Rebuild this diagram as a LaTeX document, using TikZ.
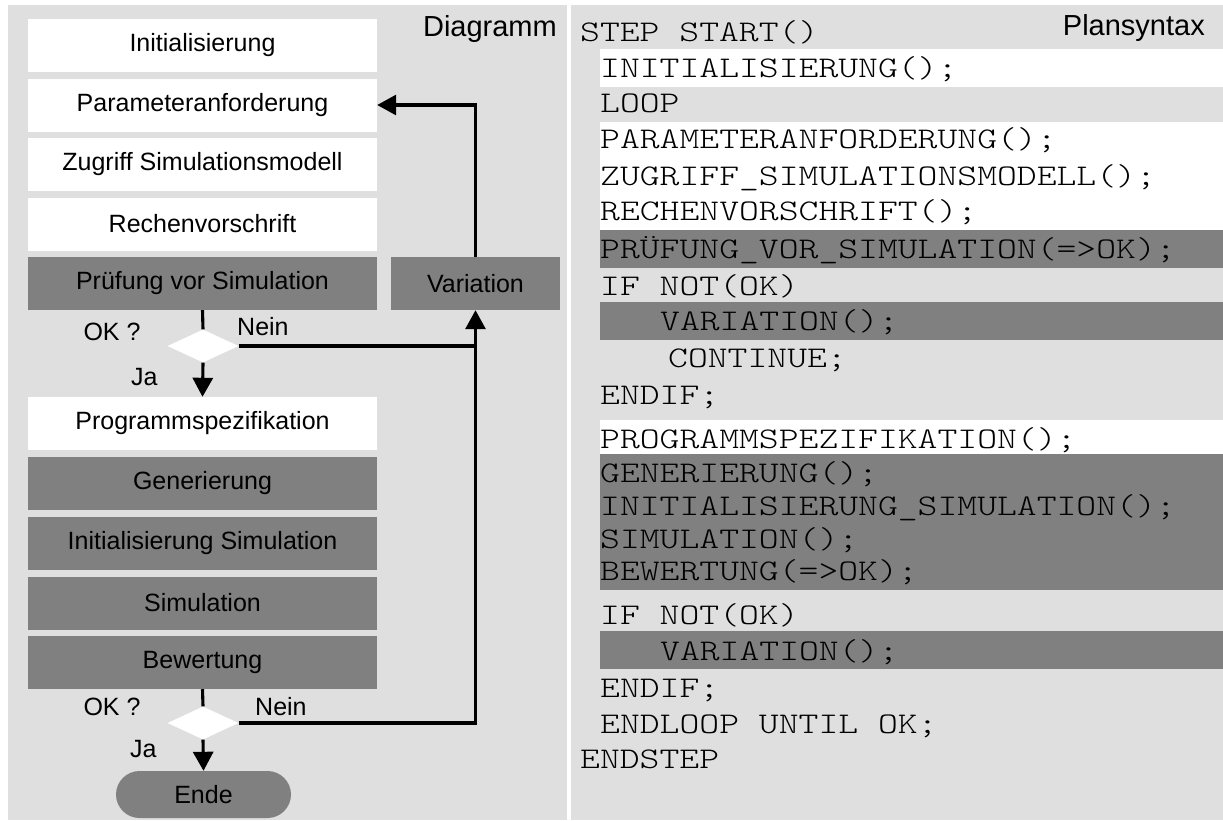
\documentclass[tikz,border=0pt]{standalone}
\usepackage{fontspec}
\setmainfont{Liberation Sans}
\newfontfamily\codefont{lmmonolt10-regular}[Extension=.otf,FakeStretch=1.26]
\usetikzlibrary{shapes.geometric,arrows.meta}
\definecolor{panel}{HTML}{DFDFDF}
\definecolor{dark}{HTML}{808080}
\begin{document}
\begin{tikzpicture}[x=1pt,y=-1pt,
  boxfont/.style={font=\fontsize{25}{30}\selectfont},
  lightbox/.style={boxfont, fill=white, minimum width=349pt, minimum height=53pt, inner sep=0pt},
  darkbox/.style={lightbox, fill=dark, text=black},
  decision/.style={diamond, fill=white, minimum width=71pt, minimum height=33pt, inner sep=0pt},
  flow/.style={line width=3.1pt, draw=black},
  flowarrow/.style={flow, -{Triangle[length=19pt,width=20pt]}},
  lbl/.style={boxfont, inner sep=0pt},
  heading/.style={font=\fontsize{29}{34}\selectfont, inner sep=0pt},
  code/.style={font=\codefont\fontsize{30}{34}\selectfont, inner sep=0pt, anchor=base west, text=black},
  whiteband/.style={fill=white},
  darkband/.style={fill=dark}]

\useasboundingbox (0,0) rectangle (1223,820);
\fill[white] (0,0) rectangle (1223,820);
\fill[panel] (8,5) rectangle (567,820);
\fill[panel] (571,5) rectangle (1223,820);

% ---- flow chart ----
\node[heading, anchor=base east] (dtitle) at (557,36) {Diagramm};

\node[lightbox] (init)   at (202.5,45.5)  {Initialisierung};
\node[lightbox] (param)  at (202.5,105)   {Parameteranforderung};
\node[lightbox] (zugr)   at (202.5,164.5) {Zugriff Simulationsmodell};
\node[lightbox] (rech)   at (202.5,224)   {Rechenvorschrift};
\node[darkbox]  (pruef)  at (202.5,283.5) {Prüfung vor Simulation};
\node[darkbox, minimum width=169pt] (var) at (475.5,283.5) {Variation};

\node[decision] (d1) at (203,346) {};
\node[lbl, anchor=base] (ok1) at (112,340) {OK ?};
\node[lbl, anchor=base west] (nein1) at (237,335) {Nein};
\node[lbl, anchor=base west] (ja1) at (131,385) {Ja};

\node[lightbox] (spez)   at (202.5,423.5) {Programmspezifikation};
\node[darkbox]  (gen)    at (202.5,483.5) {Generierung};
\node[darkbox]  (isim)   at (202.5,543.5) {Initialisierung Simulation};
\node[darkbox]  (sim)    at (202.5,603)   {Simulation};
\node[darkbox]  (bew)    at (202.5,662.5) {Bewertung};

\node[decision] (d2) at (203,723) {};
\node[lbl, anchor=base] (ok2) at (112,715) {OK ?};
\node[lbl, anchor=base west] (nein2) at (255,715) {Nein};
\node[lbl, anchor=base west] (ja2) at (130,757) {Ja};

\node[boxfont, fill=dark, text=black, rounded corners=23.5pt, minimum width=175pt, minimum height=47pt, inner sep=0pt] (ende) at (203.5,794.5) {Ende};

\coordinate (join) at (var.south |- d1.east);

\draw[flow] (pruef.south) -- (d1.north);
\draw[flowarrow] (d1.south) -- (spez.north);
\draw[flow] (d1.east) -- (join);
\draw[flow] (d2.east) -| (join);
\draw[flowarrow] (join) -- (var.south);
\draw[flowarrow] (var.north) |- (param.east);
\draw[flow] (bew.south) -- (d2.north);
\draw[flowarrow] (d2.south) -- (ende.north);

% ---- plan syntax ----
\node[heading, anchor=base east] (ptitle) at (1205,35) {Plansyntax};

\fill[whiteband] (600,49)  rectangle (1223,87);
\fill[whiteband] (600,122) rectangle (1223,230);
\fill[darkband]  (600,230) rectangle (1223,268);
\fill[darkband]  (600,302) rectangle (1223,340);
\fill[whiteband] (600,420) rectangle (1223,454);
\fill[darkband]  (600,454) rectangle (1223,590);
\fill[darkband]  (600,631) rectangle (1223,669);

\node[code] (c1)  at (580,41)  {STEP START()};
\node[code] (c2)  at (600,77)  {INITIALISIERUNG();};
\node[code] (c3)  at (600,112) {LOOP};
\node[code] (c4)  at (600,148) {PARAMETERANFORDERUNG();};
\node[code] (c5)  at (600,185) {ZUGRIFF\_SIMULATIONSMODELL();};
\node[code] (c6)  at (600,220) {RECHENVORSCHRIFT();};
\node[code] (c7)  at (600,258) {PRÜFUNG\_VOR\_SIMULATION(=>OK);};
\node[code] (c8)  at (600,295) {IF NOT(OK)};
\node[code] (c9)  at (660,330) {VARIATION();};
\node[code] (c10) at (668,367) {CONTINUE;};
\node[code] (c11) at (600,404) {ENDIF;};
\node[code] (c12) at (600,448) {PROGRAMMSPEZIFIKATION();};
\node[code] (c13) at (600,482) {GENERIERUNG();};
\node[code] (c14) at (600,515) {INITIALISIERUNG\_SIMULATION();};
\node[code] (c15) at (600,548) {SIMULATION();};
\node[code] (c16) at (600,580) {BEWERTUNG(=>OK);};
\node[code] (c17) at (600,624) {IF NOT(OK)};
\node[code] (c18) at (660,660) {VARIATION();};
\node[code] (c19) at (600,697) {ENDIF;};
\node[code] (c20) at (600,733) {ENDLOOP UNTIL OK;};
\node[code] (c21) at (580,768) {ENDSTEP};
\end{tikzpicture}
\end{document}
